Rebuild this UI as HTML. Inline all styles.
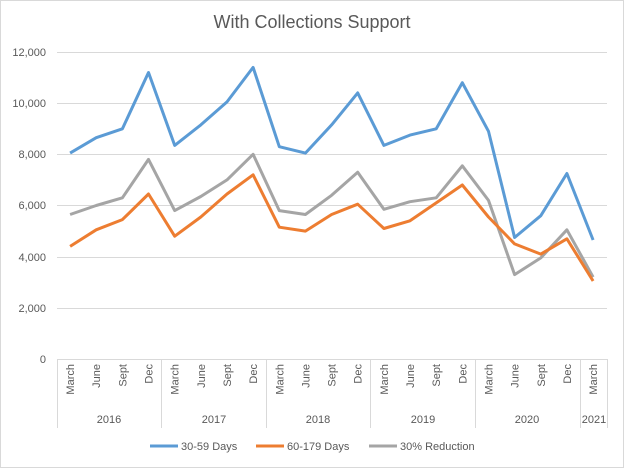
<!DOCTYPE html><html><head><style>body{margin:0;background:#fff}svg{display:block;font-family:"Liberation Sans",sans-serif}</style></head><body>
<svg width="624" height="468" viewBox="0 0 624 468">
<rect x="0.5" y="0.5" width="623" height="467" fill="#fff" stroke="#d9d9d9"/>
<text x="312" y="28" text-anchor="middle" font-size="18" fill="#595959">With Collections Support</text>
<g stroke="#d9d9d9" stroke-width="1">
<line x1="57" x2="607" y1="52.5" y2="52.5"/><line x1="57" x2="607" y1="103.5" y2="103.5"/><line x1="57" x2="607" y1="154.5" y2="154.5"/><line x1="57" x2="607" y1="205.5" y2="205.5"/><line x1="57" x2="607" y1="257.5" y2="257.5"/><line x1="57" x2="607" y1="308.5" y2="308.5"/><line x1="57" x2="607" y1="359.5" y2="359.5"/>
<line x1="57.5" x2="57.5" y1="359" y2="428"/><line x1="161.5" x2="161.5" y1="359" y2="428"/><line x1="266.5" x2="266.5" y1="359" y2="428"/><line x1="370.5" x2="370.5" y1="359" y2="428"/><line x1="475.5" x2="475.5" y1="359" y2="428"/><line x1="580.5" x2="580.5" y1="359" y2="428"/><line x1="607.5" x2="607.5" y1="359" y2="428"/>
</g>
<g font-size="11" fill="#595959" text-anchor="end">
<text x="46" y="56">12,000</text><text x="46" y="107">10,000</text><text x="46" y="158">8,000</text><text x="46" y="209">6,000</text><text x="46" y="261">4,000</text><text x="46" y="312">2,000</text><text x="46" y="363">0</text>
</g>
<g id="cats" font-size="11" fill="#595959" text-anchor="end"></g>
<g font-size="11" fill="#595959" text-anchor="middle">
<text x="109" y="423">2016</text><text x="214" y="423">2017</text><text x="318" y="423">2018</text><text x="423" y="423">2019</text><text x="527" y="423">2020</text><text x="594" y="423">2021</text>
</g>
<g id="lines" fill="none" stroke-width="3" stroke-linejoin="round"></g>
<g font-size="11" fill="#595959">
<line x1="150" x2="178" y1="446" y2="446" stroke="#5b9bd5" stroke-width="3"/><text x="181" y="450">30-59 Days</text>
<line x1="256" x2="284" y1="446" y2="446" stroke="#ed7d31" stroke-width="3"/><text x="287" y="450">60-179 Days</text>
<line x1="369" x2="397" y1="446" y2="446" stroke="#a5a5a5" stroke-width="3"/><text x="400" y="450">30% Reduction</text>
</g>
</svg>
<script>
var ns="http://www.w3.org/2000/svg";
var labs=["March","June","Sept","Dec"];
function X(i){return 57+13.07+26.15*i}
function Y(v){return 359-v*307/12000}
var c=document.getElementById("cats");
for(var i=0;i<21;i++){var t=document.createElementNS(ns,"text");var x=X(i)+4,y=364;t.setAttribute("transform","translate("+x+","+y+") rotate(-90)");t.textContent=labs[i%4];c.appendChild(t);}
var S=[["#a5a5a5",[5650,6000,6300,7800,5800,6350,7000,8000,5800,5650,6400,7300,5850,6150,6300,7550,6200,3300,3950,5050,3200]],
["#ed7d31",[4400,5050,5450,6450,4800,5550,6450,7200,5150,5000,5650,6050,5100,5400,6100,6800,5550,4500,4100,4700,3050]],
["#5b9bd5",[8050,8650,9000,11200,8350,9150,10050,11400,8300,8050,9150,10400,8350,8750,9000,10800,8900,4750,5600,7250,4650]]];
var g=document.getElementById("lines");
S.forEach(function(s){var p=document.createElementNS(ns,"polyline");p.setAttribute("points",s[1].map(function(v,i){return X(i).toFixed(1)+","+Y(v).toFixed(1)}).join(" "));p.setAttribute("stroke",s[0]);g.appendChild(p);});
</script>
</body></html>
